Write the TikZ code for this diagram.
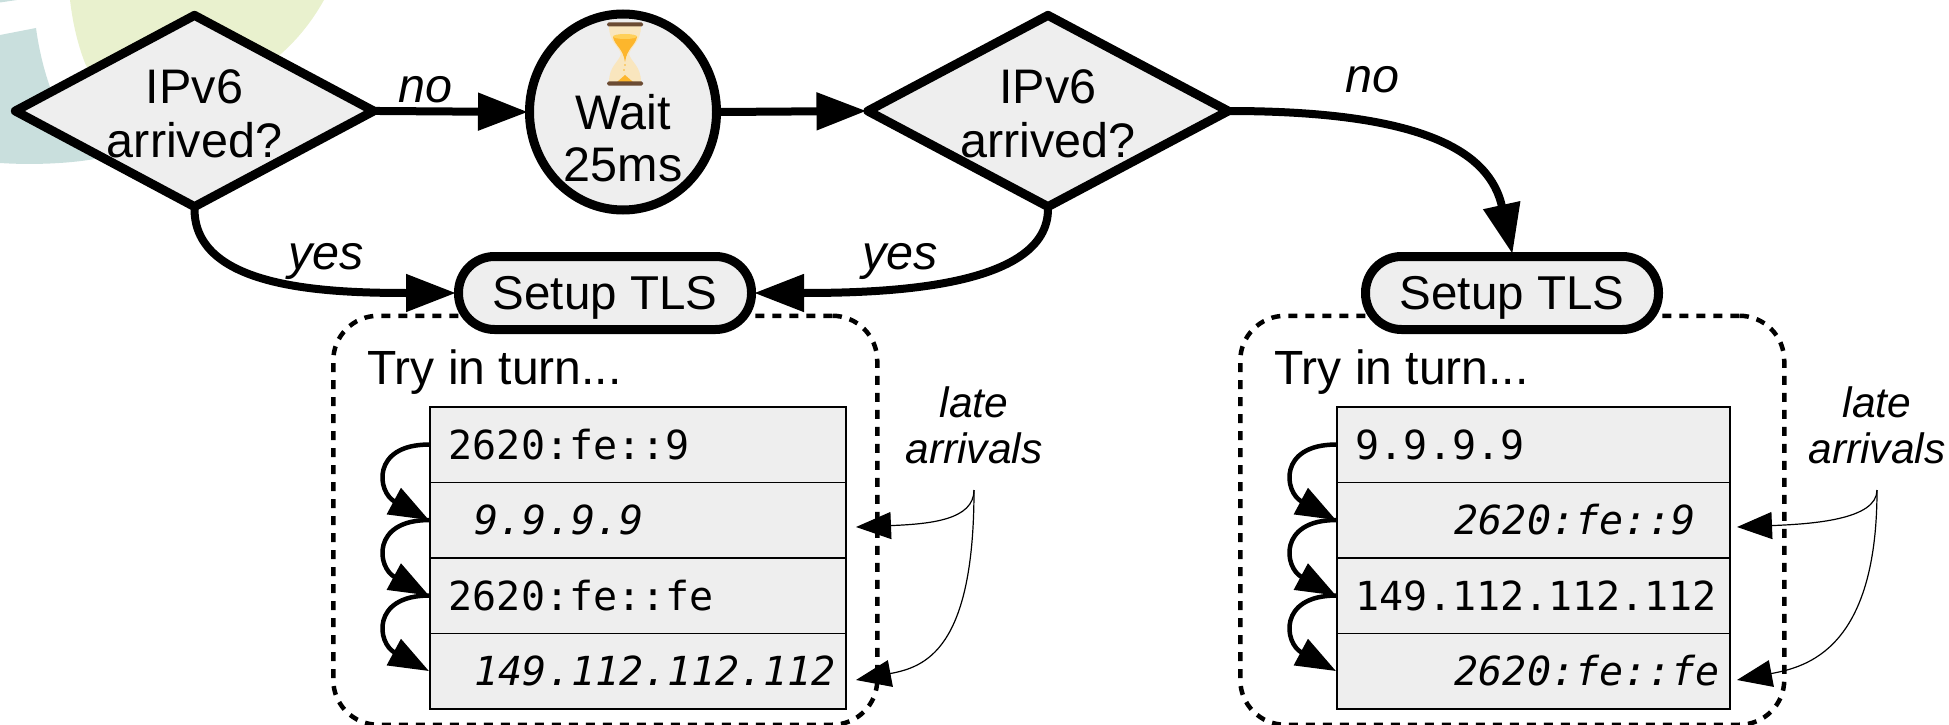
\documentclass[tikz,border=0pt]{standalone}
\usepackage{fontspec}
\setmainfont{Liberation Sans}
\setmonofont{DejaVu Sans Mono}
\usetikzlibrary{shapes.geometric,arrows.meta}
\definecolor{boxfill}{HTML}{EEEEEE}
\definecolor{bggreen}{HTML}{E9F1CE}
\definecolor{bgteal}{HTML}{C9DFDD}
\definecolor{glass}{HTML}{F9E6BE}
\definecolor{sand}{HTML}{FDB62C}
\definecolor{sandlight}{HTML}{FFD05A}
\definecolor{wood}{HTML}{6B4B33}
\tikzset{
  x=1pt,y=-1pt,
  bigfont/.style={font=\fontsize{48.5}{52}\selectfont},
  note/.style={font=\fontsize{48.5}{52}\selectfont\itshape},
  smallnote/.style={font=\fontsize{42.5}{46}\selectfont\itshape,align=center},
  decision/.style={diamond,draw=black,fill=boxfill,line width=9pt,line join=round,inner sep=0pt,aspect=1.83,align=center,font=\fontsize{48.5}{54}\selectfont},
  waitnode/.style={ellipse,draw=black,fill=boxfill,line width=9pt,inner sep=0pt,minimum width=187pt,minimum height=196pt},
  tls/.style={rectangle,draw=black,fill=boxfill,line width=9pt,rounded corners=36pt,minimum width=293pt,minimum height=73pt,inner sep=0pt,text depth=0pt,font=\fontsize{47.5}{52}\selectfont},
  tryframe/.style={rectangle,draw=black,line width=4.5pt,dash pattern=on 9pt off 8pt,rounded corners=45pt,minimum width=544pt,minimum height=409pt,inner sep=0pt},
  trytext/.style={font=\fontsize{48}{52}\selectfont,inner sep=0pt},
  addr/.style={rectangle,draw=black,fill=boxfill,line width=1.6pt,inner xsep=19pt,inner ysep=0pt,minimum height=75.5pt,align=left,font=\fontsize{40}{44}\selectfont\ttfamily},
  addri/.style={addr,font=\fontsize{40}{44}\selectfont\ttfamily\itshape},
  flow/.style={line width=8pt,-{Triangle[length=50pt,width=36pt]}},
  hop/.style={line width=4.5pt,-{Triangle[length=40pt,width=29pt]}},
  late/.style={line width=1.2pt,-{Triangle[length=35pt,width=27pt]}},
}
\begin{document}
\begin{tikzpicture}
\useasboundingbox (0,0) rectangle (1949,725);
% faint logo behind
\fill[bggreen] (70,0) .. controls (73,25) and (78,45) .. (85,63) -- (120,140) -- (260,70) .. controls (290,50) and (310,25) .. (324,0) -- cycle;
\fill[bgteal] (0,35) -- (36,28) .. controls (39,50) and (44,70) .. (50,87) -- (110,150) -- (100,158) .. controls (70,164) and (30,165) .. (0,163) -- cycle;
\fill[bgteal] (0,0) -- (17,0) -- (0,2.5) -- cycle;
% frames
\node[tryframe,anchor=north west] (f1) at (331,313.5) {};
\node[tryframe,anchor=north west] (f2) at (1238,313.5) {};
% flow nodes
\node[decision,minimum width=362pt,minimum height=195pt] (d1) at (194.5,111) {\rule{0pt}{40pt}IPv6\\arrived?};
\node[waitnode] (w) at (623,112) {};
\node[bigfont,align=center] (wt) at (623,138) {Wait\\25ms};
\node[decision,minimum width=364pt,minimum height=195pt] (d2) at (1048,111) {\rule{0pt}{40pt}IPv6\\arrived?};
\node[tls] (s1) at (605,293) {Setup TLS};
\node[tls] (s2) at (1512,293) {Setup TLS};
% hourglass
\fill[glass] (609,26) -- (641,26) .. controls (641,42) and (631,46) .. (629,54) .. controls (631,62) and (641,66) .. (641,82) -- (609,82) .. controls (609,66) and (619,62) .. (621,54) .. controls (619,46) and (609,42) .. (609,26) -- cycle;
\fill[sand] (613,37) .. controls (620,34) and (630,34) .. (637,37) .. controls (635,46) and (627,48) .. (625,62) .. controls (623,48) and (615,46) .. (613,37) -- cycle;
\fill[sandlight] (625,36.5) ellipse (12 and 2.5);
\fill[sand] (617,82) -- (625,75) -- (633,82) -- cycle;
\fill[sand] (625,65) circle (0.8) (624,70) circle (0.8);
\fill[wood,rounded corners=1.5pt] (607,22.5) rectangle (643,26.5);
\fill[wood,rounded corners=1.5pt] (607,81.5) rectangle (643,85.5);
% labels
\node[note] (no1) at (425.5,90) {no};
\node[note] (no2) at (1372,80) {no};
\node[note] (yes1) at (326,261) {yes};
\node[note] (yes2) at (900,261) {yes};
% flow connectors
\draw[flow,shorten <=-6pt,shorten >=-3pt] (d1.east) -- (w.west);
\draw[flow,shorten <=-2pt,shorten >=-5pt] (w.east) -- (d2.west);
\draw[flow,shorten <=-4pt,shorten >=-2pt] (d1.south) .. controls +(0,75) and +(-130,0) .. (s1.west);
\draw[flow,shorten <=-4pt,shorten >=-2pt] (d2.south) .. controls +(0,75) and +(130,0) .. (s1.east);
\draw[flow,shorten <=-6pt,shorten >=-2pt] (d2.east) .. controls +(190,0) and +(-22,-100) .. (s2.north);
% try labels
\node[trytext,anchor=base west] (t1) at (367,384.5) {Try in turn...};
\node[trytext,anchor=base west] (t2) at (1274,384.5) {Try in turn...};
% table 1
\node[addr,anchor=north west,text width=378pt] (a1) at (429,406) {2620:fe::9};
\node[addri,anchor=north west,text width=378pt] (a2) at (429,481.5) {\hspace*{26pt}9.9.9.9};
\node[addr,anchor=north west,text width=378pt] (a3) at (429,557) {2620:fe::fe};
\node[addri,anchor=north west,text width=378pt] (a4) at (429,632.5) {\hspace*{26pt}149.112.112.112};
% table 2
\node[addr,anchor=north west,text width=355pt] (b1) at (1336,406) {9.9.9.9};
\node[addri,anchor=north west,text width=355pt] (b2) at (1336,481.5) {\hspace*{99pt}2620:fe::9};
\node[addr,anchor=north west,text width=355pt] (b3) at (1336,557) {149.112.112.112};
\node[addri,anchor=north west,text width=355pt] (b4) at (1336,632.5) {\hspace*{99pt}2620:fe::fe};
% hops
\draw[hop] (a1.west) .. controls +(-58,0) and +(-52,-28) .. (a2.west);
\draw[hop] (a2.west) .. controls +(-58,0) and +(-52,-28) .. (a3.west);
\draw[hop] (a3.west) .. controls +(-58,0) and +(-52,-28) .. (a4.west);
\draw[hop] (b1.west) .. controls +(-58,0) and +(-52,-28) .. (b2.west);
\draw[hop] (b2.west) .. controls +(-58,0) and +(-52,-28) .. (b3.west);
\draw[hop] (b3.west) .. controls +(-58,0) and +(-52,-28) .. (b4.west);
% late arrivals
\node[smallnote] (l1) at (974,425) {late\\arrivals};
\node[smallnote] (l2) at (1877,425) {late\\arrivals};
\coordinate (c1) at (974,490);
\coordinate (c2) at (1877,490);
\coordinate (p1) at (856,527);
\coordinate (p2) at (856,680);
\coordinate (q1) at (1737,527);
\coordinate (q2) at (1737,680);
\draw[late] (c1) .. controls +(0,30) and +(74,-3) .. (p1);
\draw[late] (c1) .. controls +(0,160) and +(69,-13) .. (p2);
\draw[late] (c2) .. controls +(0,30) and +(74,-3) .. (q1);
\draw[late] (c2) .. controls +(0,160) and +(69,-13) .. (q2);
\end{tikzpicture}
\end{document}
